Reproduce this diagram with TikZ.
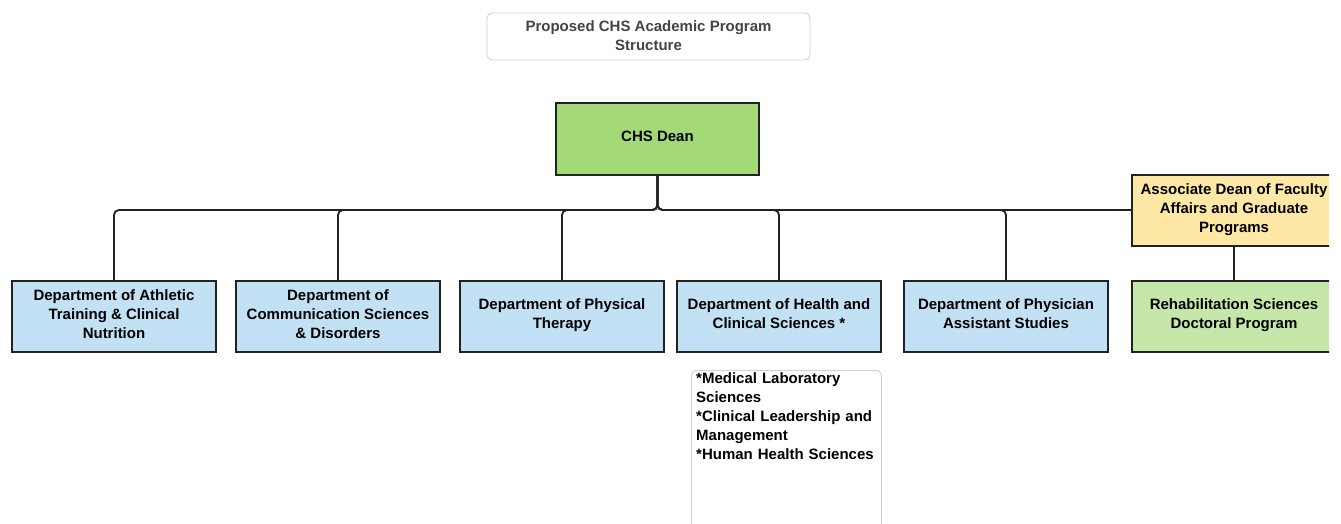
\documentclass[tikz,border=0pt]{standalone}
\usepackage{fontspec}
\setmainfont{Liberation Sans}
\definecolor{deptblue}{HTML}{C3E1F5}
\definecolor{deangreen}{HTML}{A3D977}
\definecolor{assocyellow}{HTML}{FEE8A6}
\definecolor{rehabgreen}{HTML}{C6E7AA}
\definecolor{linegray}{HTML}{222222}
\definecolor{titlegray}{HTML}{444444}
\definecolor{framegray}{HTML}{D0D0D0}
\begin{document}
\begin{tikzpicture}[x=1pt,y=-1pt,
  every node/.style={font=\bfseries\fontsize{15}{19}\selectfont, align=center, inner sep=0pt},
  box/.style={draw=linegray, line width=1.8pt, minimum width=204pt, minimum height=71pt, text depth=5pt},
  dept/.style={box, fill=deptblue},
  conn/.style={draw=linegray, line width=1.8pt, rounded corners=5pt},
  frame/.style={draw=framegray, line width=0.9pt, rounded corners=5pt}
]
\useasboundingbox (0,0) rectangle (1341,524);
\fill[white] (0,0) rectangle (1341,524);
\clip (0,0) rectangle (1329,524);

% title
\node[frame, minimum width=323pt, minimum height=47pt, text=titlegray, text depth=2.5pt] (title) at (648.5,36.5)
  {Proposed CHS Academic Program\\Structure};

% dean
\node[box, fill=deangreen, minimum width=203pt, minimum height=72pt] (dean) at (657.5,139) {CHS Dean};

% associate dean and rehab
\node[box, fill=assocyellow] (assoc) at (1234,210.5) {Associate Dean of Faculty\\Affairs and Graduate\\Programs};
\node[box, fill=rehabgreen] (rehab) at (1234,316.5) {Rehabilitation Sciences\\Doctoral Program};

% departments
\node[dept] (ath) at (114,316.5) {Department of Athletic\\Training \& Clinical\\Nutrition};
\node[dept] (comm) at (338,316.5) {Department of\\Communication Sciences\\\& Disorders};
\node[dept] (pt) at (562,316.5) {Department of Physical\\Therapy};
\node[dept] (hcs) at (779,316.5) {Department of Health and\\Clinical Sciences *};
\node[dept] (pa) at (1006,316.5) {Department of Physician\\Assistant Studies};

% note box
\node[frame, anchor=north west, minimum width=190pt, minimum height=175pt] (note) at (691,370) {};
\node[anchor=north west, align=left, text width=185pt] (notetext) at (696,372.5)
  {*Medical Laboratory\\{}Sciences\\{}*Clinical Leadership and\\{}Management\\{}*Human Health Sciences};

% connectors
\coordinate (bus) at (657.5,210);
\draw[conn] (dean.south) -- (bus) -| (ath.north);
\draw[conn] (dean.south) -- (bus) -| (comm.north);
\draw[conn] (dean.south) -- (bus) -| (pt.north);
\draw[conn] (dean.south) -- (bus) -| (hcs.north);
\draw[conn] (dean.south) -- (bus) -| (pa.north);
\draw[conn] (dean.south) -- (bus) -- (bus -| assoc.west);
\draw[conn] (assoc.south) -- (rehab.north);
\end{tikzpicture}
\end{document}
